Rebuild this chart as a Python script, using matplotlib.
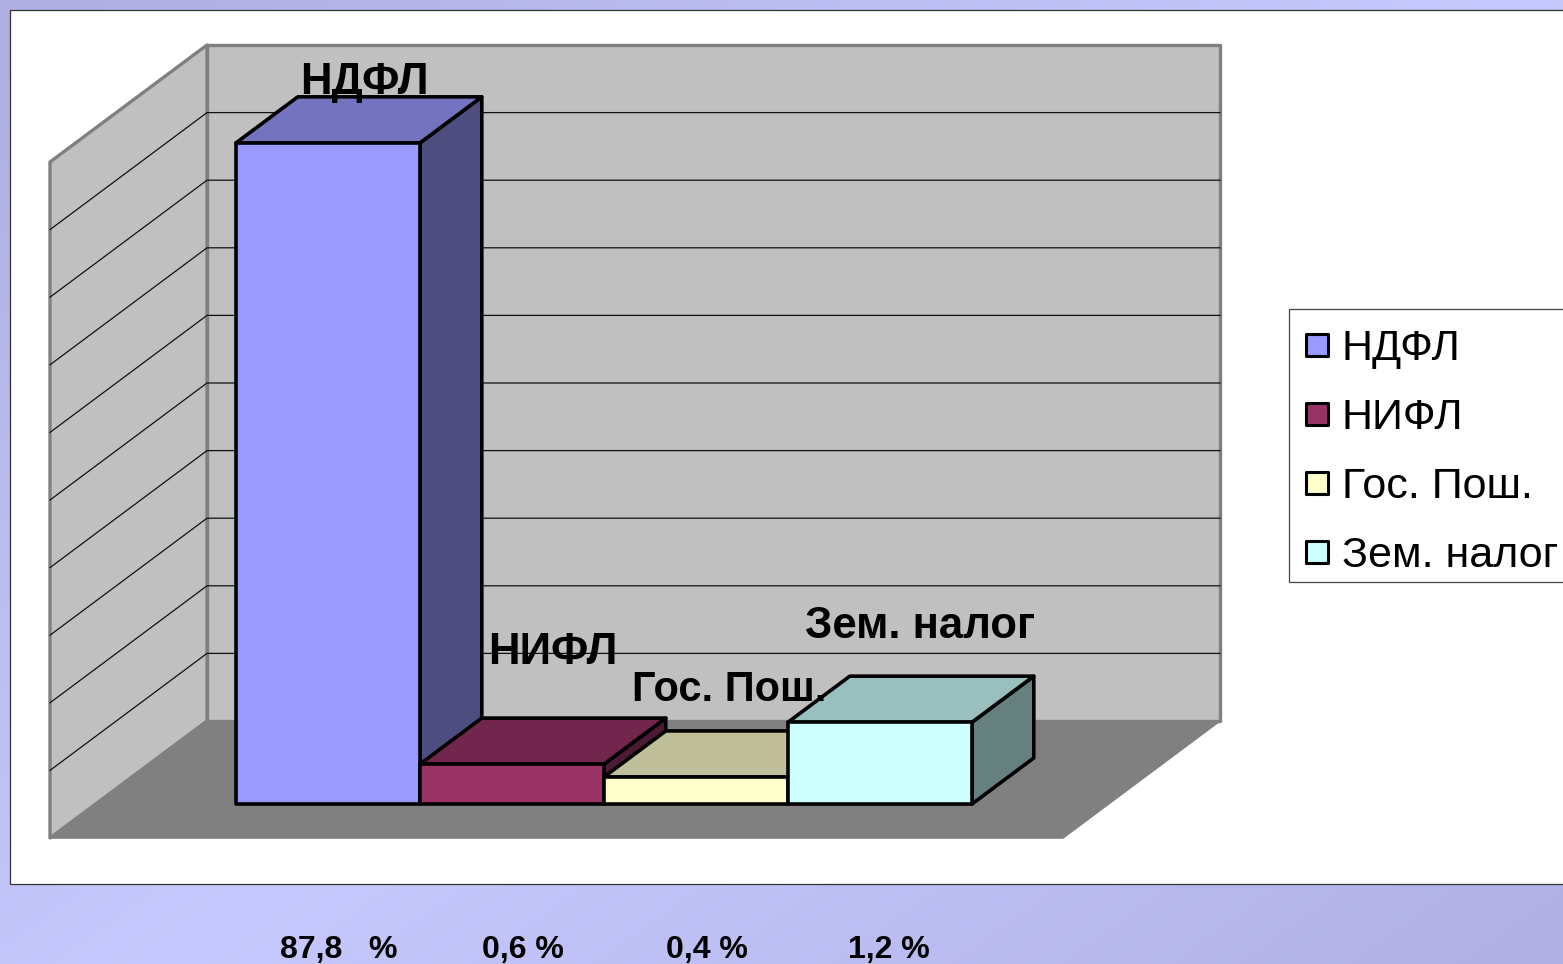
import numpy as np
import matplotlib
matplotlib.use("Agg")
import matplotlib.pyplot as plt
from matplotlib.patches import Polygon, Rectangle
from matplotlib.lines import Line2D
from matplotlib.markers import MarkerStyle

categories = ["НДФЛ", "НИФЛ", "Гос. Пош.", "Зем. налог"]
data_labels = ["НДФЛ", "НИФЛ", "Гос. Пош.", "Зем. налог"]
values = [97.8, 5.9, 4.0, 12.1]
share_labels = ["87,8   %", "0,6 %", "0,4 %", "1,2 %"]
colors = ["#9999ff", "#993366", "#ffffcc", "#ccffff"]
grid_values = list(range(10, 100, 10))

W, H = 1563, 964
plt.rcParams["font.family"] = ["Liberation Sans", "DejaVu Sans"]
fig = plt.figure(figsize=(W / 100, H / 100), dpi=100)
ax = fig.add_axes([0, 0, 1, 1])
ax.set_xlim(0, W)
ax.set_ylim(H, 0)
ax.axis("off")

# slide background
yy, xx = np.mgrid[0:H, 0:W]
t = (895 * xx + 1250 * yy) / (895 * W + 1250 * H)
k = 1 - np.abs(t - 0.52) / 0.52
c0, c1 = np.array([174, 174, 226]), np.array([199, 201, 254])
bg = c0 + (c1 - c0) * k[..., None]
ax.imshow(bg.astype(np.uint8), extent=(0, W, H, 0), aspect="auto", zorder=0)
ax.add_patch(Rectangle((10, 10), W, 874, fc="white", ec="#333333", lw=0.9, zorder=1))

# oblique projection of chart space (category, depth, value) to the page
X0, Y0 = 50.0, 838.0
CAT, DX, DY, VAL = 184.0, 157.0, 117.0, 6.76
XMAX, VMAX = 5.505, 100.0


def proj(x, d, v):
    return (X0 + CAT * x + DX * d, Y0 - DY * d - VAL * v)


WALL, FLOOR, EDGE = "#c0c0c0", "#808080", "#808080"
wall_kw = dict(fc=WALL, ec=EDGE, lw=2.4, joinstyle="round", zorder=2)
ax.add_patch(Polygon([proj(0, 1, 0), proj(XMAX, 1, 0), proj(XMAX, 1, VMAX), proj(0, 1, VMAX)], **wall_kw))
ax.add_patch(Polygon([proj(0, 0, 0), proj(0, 1, 0), proj(0, 1, VMAX), proj(0, 0, VMAX)], **wall_kw))
for g in grid_values:
    pts = np.array([proj(0, 0, g), proj(0, 1, g), proj(XMAX, 1, g)])
    ax.plot(pts[:, 0], pts[:, 1], color="#111111", lw=0.9, zorder=3)
ax.add_patch(Polygon([proj(0, 0, 0), proj(XMAX, 0, 0), proj(XMAX, 1, 0), proj(0, 1, 0)],
                     fc=FLOOR, ec=FLOOR, lw=1.2, zorder=3))


def shade(c, f):
    return tuple(f * a for a in matplotlib.colors.to_rgb(c))


D0, D1, X_START = 0.29, 0.684, 0.763
offsets = [(6, -37), (10, -89), (2, -64), (9, -73)]
label_sizes = [31.5, 31.5, 30, 31.5]
for i, (v, c) in enumerate(zip(values, colors)):
    x0, x1 = X_START + i, X_START + i + 1
    kw = dict(ec="black", lw=2.6, joinstyle="round", zorder=5 + i)
    ax.add_patch(Polygon([proj(x1, D0, 0), proj(x1, D1, 0), proj(x1, D1, v), proj(x1, D0, v)],
                         fc=shade(c, 0.5), **kw))
    ax.add_patch(Polygon([proj(x0, D0, v), proj(x1, D0, v), proj(x1, D1, v), proj(x0, D1, v)],
                         fc=shade(c, 0.75), **kw))
    ax.add_patch(Polygon([proj(x0, D0, 0), proj(x1, D0, 0), proj(x1, D0, v), proj(x0, D0, v)],
                         fc=c, **kw))

for i, (lab, v, off, fs) in enumerate(zip(data_labels, values, offsets, label_sizes)):
    px, py = proj(X_START + i + 0.5, (D0 + D1) / 2, v)
    ax.text(px + off[0], py + off[1], lab, fontsize=fs, fontweight="bold", color="black",
            ha="center", va="center", zorder=20)

for lab, px in zip(share_labels, [339, 523, 707, 889]):
    ax.text(px, 950, lab, fontsize=23, fontweight="bold", color="black",
            ha="center", va="center", zorder=20)

ax.add_patch(Rectangle((1289, 309), W, 273, fc="white", ec="#444444", lw=0.9, zorder=4))
handles = [Line2D([], [], ls="none", marker=MarkerStyle("s", joinstyle="round"), markersize=16.5,
                  markerfacecolor=c, markeredgecolor="black", markeredgewidth=2.2) for c in colors]
leg = ax.legend(handles, categories, loc="upper left", bbox_to_anchor=(1289, 309),
                bbox_transform=ax.transData, borderaxespad=0, fontsize=31, frameon=False,
                labelspacing=0.667, borderpad=0.475, handlelength=0.36, handletextpad=0.39)
leg.set_zorder(30)

fig.savefig("out.png", dpi=100)
